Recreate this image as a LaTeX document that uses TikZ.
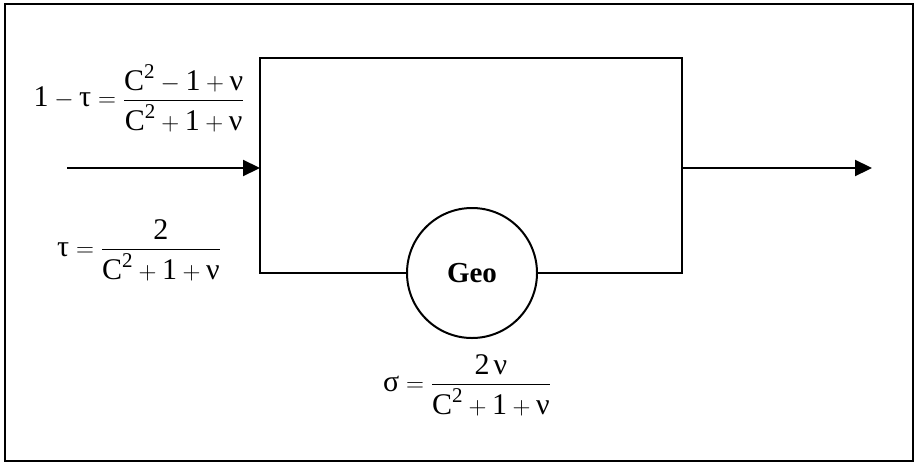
\documentclass[tikz,border=0pt]{standalone}
\usepackage{amsmath}
\usepackage{fontspec}
\setmainfont{Liberation Serif}
\usetikzlibrary{arrows.meta}
\newcommand{\tv}[1]{\text{#1}}
\begin{document}
\begin{tikzpicture}[x=1pt,y=-1pt,
  line/.style={line width=2.2pt},
  flow/.style={line, -{Triangle[length=17pt,width=16pt]}},
  lbl/.style={font=\fontsize{30}{34}\selectfont, inner sep=0pt},
]
\useasboundingbox (0,0) rectangle (917,466);
\draw[line width=2pt] (5,4) rectangle (913,461);
% block
\node[circle, draw, line width=2pt, minimum size=130pt, inner sep=0pt, font=\fontsize{29}{33}\selectfont\bfseries] (geo) at (472,273) {Geo};
\coordinate (bl) at (260,273);
\coordinate (tl) at (260,58);
\coordinate (tr) at (682,58);
\coordinate (br) at (682,273);
\draw[line] (geo.west) -- (bl) -- (tl) -- (tr) -- (br) -- (geo.east);
% arrows
\coordinate (in) at (67,168);
\coordinate (boxin) at (260,168);
\coordinate (boxout) at (682,168);
\coordinate (out) at (872,168);
\draw[flow] (in) -- (boxin);
\draw[flow] (boxout) -- (out);
% labels
\node[lbl] (reflect) at (139,98) {$\tv{1}-\tv{τ}=\dfrac{\tv{C}^{\tv{2}}-\tv{1}+\tv{ν}}{\tv{C}^{\tv{2}}+\tv{1}+\tv{ν}}$};
\node[lbl] (trans) at (139,250) {$\tv{τ}=\dfrac{\tv{2}}{\tv{C}^{\tv{2}}+\tv{1}+\tv{ν}}$};
\node[lbl] (scat) at (467,385) {$\tv{σ}=\dfrac{\tv{2}\,\tv{ν}}{\tv{C}^{\tv{2}}+\tv{1}+\tv{ν}}$};
\end{tikzpicture}
\end{document}
